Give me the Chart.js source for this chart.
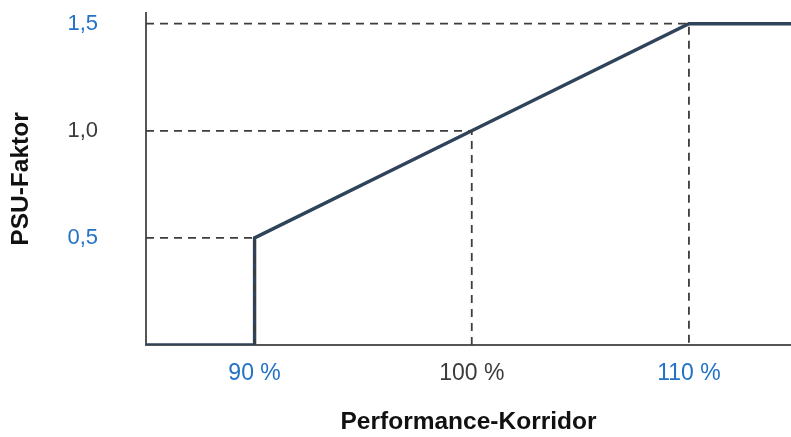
<!DOCTYPE html>
<html>
<head>
<meta charset="utf-8">
<script src="https://cdn.jsdelivr.net/npm/chart.js@4.4.0/dist/chart.umd.min.js"></script>
<style>
  html, body { margin: 0; padding: 0; background: #fff; }
  #wrap { width: 791px; height: 437px; }
</style>
</head>
<body>
<div id="wrap"><canvas id="graphCanvas" width="791" height="437"></canvas></div>
<script>
// corridor levels (x in %) and the PSU factor reached at each level
const levels = [90, 100, 110];
const factors = [0.5, 1.0, 1.5];
const levelColors = ['#2372c6', '#3b3b3b', '#2372c6'];

// curve of the factor along the corridor
const curveX = [85, 90, 90, 100, 110, 114.7];
const curveY = [0, 0, 0.5, 1.0, 1.5, 1.5];

const xMin = 85, xMax = 114.7;
const yMin = 0, yMax = 1.55;

const fontFamily = "'Liberation Sans', Arial, Helvetica, sans-serif";

function showGraph() {
    let graphTarget = document.getElementById('graphCanvas');

    let datasets = [];
    // dashed guides first so the solid curve sits on top
    for (let i = 0; i < levels.length; i++) {
        datasets.push({
            data: [
                {x: xMin, y: factors[i]},
                {x: levels[i], y: factors[i]},
                {x: levels[i], y: 0}
            ],
            borderColor: '#3d3d3d',
            borderWidth: 1.8,
            borderDash: [8, 6],
            pointRadius: 0,
            fill: false
        });
    }
    datasets.push({
        data: curveX.map((x, i) => ({x: x, y: curveY[i]})),
        borderColor: '#2f435b',
        borderWidth: 3.4,
        pointRadius: 0,
        fill: false
    });

    new Chart(graphTarget, {
        type: 'line',
        data: {datasets: datasets},
        options: {
            responsive: false,
            animation: false,
            layout: {padding: {top: 13, right: 0, bottom: 0, left: 0}},
            plugins: {legend: {display: false}, tooltip: {enabled: false}},
            scales: {
                x: {
                    type: 'linear',
                    min: xMin,
                    max: xMax,
                    afterBuildTicks: (scale) => { scale.ticks = levels.map(v => ({value: v})); },
                    afterFit: (scale) => {
                        scale.height = 92;
                        scale.paddingLeft = 0;
                        scale.paddingRight = 0;
                    },
                    grid: {display: false, drawTicks: false},
                    border: {display: true, color: '#555', width: 2},
                    ticks: {
                        padding: 15,
                        font: {family: fontFamily, size: 23},
                        color: (ctx) => levelColors[levels.indexOf(ctx.tick.value)] || '#3b3b3b',
                        callback: (v) => v + ' %'
                    },
                    title: {
                        display: true,
                        text: 'Performance-Korridor',
                        color: '#111',
                        font: {family: fontFamily, size: 24.5, weight: 'bold'},
                        padding: {top: 0, bottom: 0}
                    }
                },
                y: {
                    min: yMin,
                    max: yMax,
                    afterBuildTicks: (scale) => { scale.ticks = factors.map(v => ({value: v})); },
                    afterFit: (scale) => {
                        scale.width = 146;
                        // tick padding would otherwise push the plot area down
                        scale.paddingTop = 0;
                        scale.paddingBottom = 0;
                    },
                    grid: {display: false, drawTicks: false},
                    border: {display: true, color: '#555', width: 2},
                    ticks: {
                        padding: 48,
                        font: {family: fontFamily, size: 22},
                        color: (ctx) => levelColors[factors.indexOf(ctx.tick.value)] || '#3b3b3b',
                        callback: (v) => v.toFixed(1).replace('.', ',')
                    },
                    title: {
                        display: true,
                        text: 'PSU-Faktor',
                        color: '#111',
                        font: {family: fontFamily, size: 24.5, weight: 'bold'},
                        padding: {top: 7, bottom: 0}
                    }
                }
            }
        }
    });
}

showGraph();
</script>
</body>
</html>
